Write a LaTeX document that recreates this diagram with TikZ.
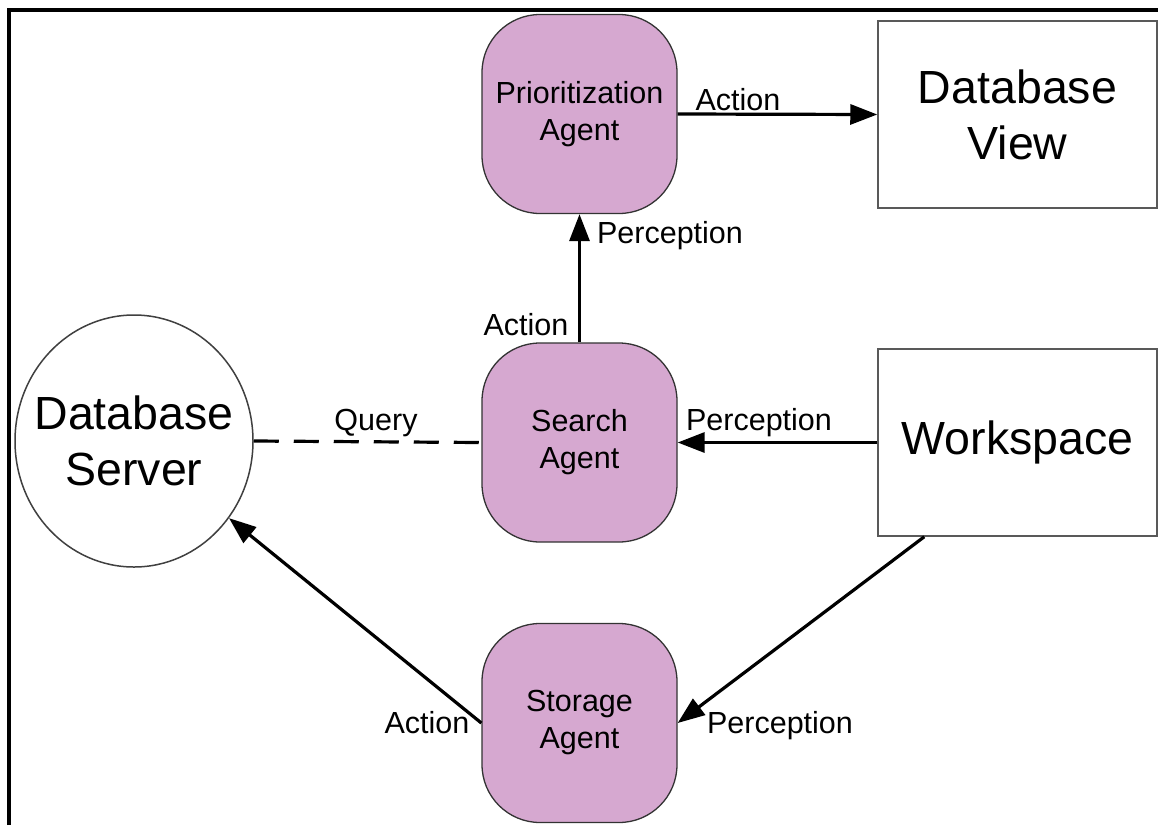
\documentclass[tikz,border=0pt]{standalone}
\usepackage{fontspec}
\setmainfont{Liberation Sans}
\usetikzlibrary{arrows.meta,shapes.geometric,calc}
\definecolor{agentfill}{RGB}{214,168,208}
\begin{document}
\begin{tikzpicture}[x=1pt,y=-1pt,
  agent/.style={draw=black!80, line width=1.3pt, fill=agentfill, rounded corners=58pt,
    minimum width=195pt, minimum height=199pt, align=center, inner sep=0pt,
    font=\fontsize{30.5}{37}\selectfont},
  panel/.style={draw=black!65, line width=1.5pt, fill=white, align=center, inner sep=0pt,
    font=\fontsize{46.5}{56}\selectfont},
  flow/.style={line width=3.2pt, -{Triangle[length=27pt,width=20pt]}},
  lbl/.style={font=\fontsize{30.5}{37}\selectfont, anchor=base, inner sep=0pt}]
% canvas and frame
\fill[white] (0,0) rectangle (1158,825);
\useasboundingbox (0,0) rectangle (1158,825);
\draw[line width=4pt] (9,825) -- (9,10) -- (1158,10);

% agents
\node[agent] (pa) at (579.5,114) {Prioritization\\Agent};
\node[agent] (sa) at (579.5,442.5) {Search\\Agent};
\node[agent] (st) at (579.5,723) {Storage\\Agent};

% environment
\node[panel, minimum width=279pt, minimum height=187pt] (dv) at (1017.5,114.5) {Database\\View};
\node[panel, minimum width=279pt, minimum height=187pt] (ws) at (1017.5,442.5) {Workspace};
\node[panel, ellipse, draw=black!75, inner xsep=-16pt, inner ysep=0pt,
  minimum width=238pt, minimum height=252pt] (ds) at (134,441) {Database\\Server};
\coordinate (wsout) at ($(ws.south west)+(47,0)$);

% connectors
\draw[flow] (pa.east) -- (dv.west);
\draw[flow] (sa.north) -- (pa.south);
\draw[flow] (ws.west) -- (sa.east);
\draw[flow] (wsout) -- (st.east);
\draw[flow] (st.west) -- (ds);
\draw[line width=3.2pt, dash pattern=on 25pt off 15pt] (ds.east) -- (sa.west);

% labels
\node[lbl] (l1) at (738,110) {Action};
\node[lbl] (l2) at (670,243) {Perception};
\node[lbl] (l3) at (526,335) {Action};
\node[lbl] (l4) at (376,430) {Query};
\node[lbl] (l5) at (759,430) {Perception};
\node[lbl] (l6) at (427,733) {Action};
\node[lbl] (l7) at (780,733) {Perception};
\end{tikzpicture}
\end{document}
